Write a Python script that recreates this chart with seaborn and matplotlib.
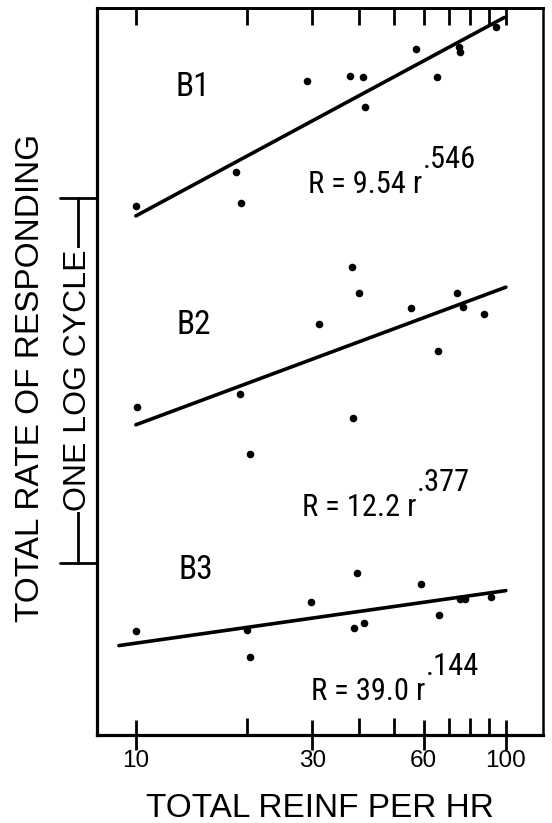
import numpy as np
import pandas as pd
import matplotlib
matplotlib.use('Agg')
import matplotlib.pyplot as plt
import matplotlib.transforms as mtransforms
from matplotlib.ticker import FixedLocator, NullLocator, NullFormatter, FuncFormatter
import seaborn as sns

# ── data (rate of responding before the display offset) ──
BIRDS = ['B1', 'B2', 'B3']

B1_REINF = [10.0, 18.6, 19.2, 29.0, 38.0, 41.0, 41.5, 57.0, 65.0, 74.5, 75.0, 94.0]
B1_RATE  = [35.8, 44.2, 36.3, 78.6, 81.2, 80.4, 66.6, 96.2, 80.7, 97.4, 94.4, 110.7]

B2_REINF = [10.1, 19.1, 20.4, 31.2, 38.4, 40.2, 38.7, 55.3, 65.5, 73.6, 76.4, 87.2]
B2_RATE  = [32.5, 35.4, 24.2, 55.0, 78.7, 66.9, 30.4, 60.8, 46.4, 66.8, 61.1, 58.3]

B3_REINF = [10.0, 20.0, 20.4, 29.7, 39.6, 38.8, 41.4, 59.0, 66.0, 75.1, 77.5, 91.1]
B3_RATE  = [58.8, 58.9, 49.9, 70.3, 84.8, 59.8, 61.6, 78.8, 64.8, 71.6, 71.6, 72.7]

# fitted power functions R = a * r^b
FIT_COEF = ['9.54', '12.2', '39.0']
FIT_EXP = ['.546', '.377', '.144']
FIT_RANGE = [(10, 99), (10, 100), (9, 100)]

# curves are shifted down the log axis so they don't overlap
OFFSET_DECADES = [0.0, -0.51, -1.38]

MAJOR_TICKS = [10, 30, 60, 100]
MINOR_TICKS = [20, 40, 50, 70, 80, 90]
TOP_TICKS = [10, 20, 30, 40, 50, 60, 70, 80, 90, 100]
BRACKET_LOW = 3.76  # one log cycle: BRACKET_LOW .. 10*BRACKET_LOW

reinf = [B1_REINF, B2_REINF, B3_REINF]
rate = [B1_RATE, B2_RATE, B3_RATE]

pts = pd.concat([
    pd.DataFrame({'bird': b, 'reinf': reinf[i], 'rate': rate[i],
                  'shown': np.array(rate[i]) * 10 ** OFFSET_DECADES[i]})
    for i, b in enumerate(BIRDS)
], ignore_index=True)

fits = []
for i, b in enumerate(BIRDS):
    r = np.geomspace(*FIT_RANGE[i], 40)
    R = float(FIT_COEF[i]) * r ** float(FIT_EXP[i])
    fits.append(pd.DataFrame({'bird': b, 'reinf': r, 'shown': R * 10 ** OFFSET_DECADES[i]}))
fits = pd.concat(fits, ignore_index=True)

sns.set_style('white')
plt.rcParams['font.family'] = ['Liberation Sans', 'DejaVu Sans']
plt.rcParams['text.color'] = 'black'
plt.rcParams['axes.labelcolor'] = 'black'
plt.rcParams['xtick.color'] = 'black'
NARROW = ['Roboto Condensed', 'DejaVu Sans Condensed', 'Liberation Sans Narrow',
          'Liberation Sans']

fig, ax = plt.subplots(figsize=(5.52, 8.23), dpi=100)
fig.subplots_adjust(left=0.1757, right=0.9837, top=0.9903, bottom=0.1069)

sns.lineplot(data=fits, x='reinf', y='shown', units='bird', estimator=None,
             color='black', linewidth=2.6, ax=ax, legend=False)
sns.scatterplot(data=pts, x='reinf', y='shown', color='black', s=30,
                linewidth=0, ax=ax, legend=False, zorder=3)

ax.set_xscale('log')
ax.set_yscale('log')
ax.set_xlim(7.85, 126)
ax.set_ylim(1.269, 124.5)

# x ticks: long crossing majors, short inward minors
ax.xaxis.set_major_locator(FixedLocator(MAJOR_TICKS))
ax.xaxis.set_major_formatter(FuncFormatter(lambda v, _: f'{v:g}'))
ax.xaxis.set_minor_locator(FixedLocator(MINOR_TICKS))
ax.xaxis.set_minor_formatter(NullFormatter())
ax.tick_params(axis='x', which='major', direction='inout', length=21, width=2,
               labelsize=17.5, pad=0, bottom=True)
ax.tick_params(axis='x', which='minor', direction='in', length=12, width=2, bottom=True)
ax.yaxis.set_major_locator(NullLocator())
ax.yaxis.set_minor_locator(NullLocator())

top = ax.secondary_xaxis('top')
top.xaxis.set_major_locator(FixedLocator(TOP_TICKS))
top.xaxis.set_minor_locator(NullLocator())
top.tick_params(axis='x', direction='in', length=12, width=2, labeltop=False)
top.spines['top'].set_linewidth(2)

for side, lw in [('left', 2.3), ('bottom', 2.3), ('top', 2), ('right', 1.8)]:
    ax.spines[side].set_visible(True)
    ax.spines[side].set_linewidth(lw)
    ax.spines[side].set_color('black')

ax.set_xlabel('TOTAL REINF PER HR', fontsize=24)
ax.xaxis.set_label_coords(0.5, -0.08)
ax.set_ylabel('TOTAL RATE OF RESPONDING', fontsize=24)
ax.yaxis.set_label_coords(-0.114, 0.491)

# "one log cycle" bracket left of the axis
trans = mtransforms.blended_transform_factory(ax.transAxes, ax.transData)
lo, hi = BRACKET_LOW, BRACKET_LOW * 10
ax.plot([-0.0426, -0.0426], [lo, hi], transform=trans, color='black', lw=2, clip_on=False)
for yv in (lo, hi):
    ax.plot([-0.083, 0], [yv, yv], transform=trans, color='black', lw=2, clip_on=False)
ax.text(-0.0426, np.sqrt(lo * hi), 'ONE LOG CYCLE', transform=trans, rotation=90,
        ha='center', va='center', fontsize=23,
        bbox=dict(facecolor='white', edgecolor='none', pad=1))

# bird labels and fitted equations
LABEL_POS = [(0.215, 0.891), (0.2175, 0.564), (0.222, 0.227)]
EQ_POS = [(0.473, 0.7455), (0.4596, 0.3012), (0.4798, 0.0481)]
for i, b in enumerate(BIRDS):
    ax.text(*LABEL_POS[i], b, transform=ax.transAxes, ha='center', va='center',
            fontsize=24, family=NARROW)
    main = ax.text(*EQ_POS[i], f'R = {FIT_COEF[i]} r', transform=ax.transAxes,
                   ha='left', va='baseline', fontsize=22, family=NARROW)
    ax.annotate(FIT_EXP[i], xy=(1, 1), xycoords=main, xytext=(0.5, 1.5),
                textcoords='offset points', ha='left', va='baseline',
                fontsize=22, family=NARROW)

fig.savefig('out.png', dpi=100)
plt.close(fig)
